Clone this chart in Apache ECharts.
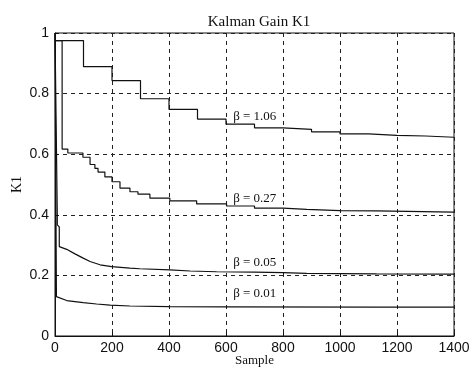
<!DOCTYPE html>
<html>
<head>
<meta charset="utf-8">
<script src="https://cdn.jsdelivr.net/npm/echarts@6/dist/echarts.min.js"></script>
<style>html,body{margin:0;padding:0;background:#fff}#c{width:473px;height:370px}</style>
</head>
<body>
<div id="c"></div>
<script>
// ---- data ----
var titleText = 'Kalman Gain K1';
var xName = 'Sample';
var yName = 'K1';
var xTicks = [0, 200, 400, 600, 800, 1000, 1200, 1400];
var yTicks = [0, 0.2, 0.4, 0.6, 0.8, 1];

// beta = 1.06 (staircase)
var b106X = [0, 100, 200, 300, 400, 500, 600, 700, 800, 900, 1000, 1100, 1200, 1300, 1400];
var b106Y = [0.975, 0.889, 0.843, 0.783, 0.748, 0.716, 0.699, 0.687, 0.682, 0.674, 0.667, 0.662, 0.660, 0.656, 0.656];
// beta = 0.27 (staircase)
var b027X = [0, 25, 45, 98, 123, 140, 151, 175, 200, 228, 263, 291, 333, 403, 497, 602, 700, 800, 883, 1000, 1128, 1400];
var b027Y = [0.975, 0.617, 0.604, 0.590, 0.566, 0.553, 0.541, 0.525, 0.509, 0.488, 0.476, 0.468, 0.455, 0.446, 0.436, 0.429, 0.422, 0.418, 0.414, 0.413, 0.409, 0.409];
// beta = 0.05
var b005X = [0, 8, 8, 15, 15, 21, 41, 70, 99, 123, 158, 199, 263, 298, 403, 474, 567, 700, 800, 883, 1000, 1128, 1400];
var b005Y = [1.0, 0.40, 0.367, 0.36, 0.295, 0.295, 0.286, 0.271, 0.257, 0.246, 0.235, 0.229, 0.224, 0.222, 0.218, 0.2145, 0.212, 0.211, 0.209, 0.207, 0.206, 0.205, 0.204];
// beta = 0.01
var b001X = [0, 5, 10, 41, 99, 146, 193, 263, 400, 600, 1128, 1400];
var b001Y = [1.0, 0.13, 0.124, 0.117, 0.110, 0.1056, 0.102, 0.099, 0.097, 0.096, 0.0955, 0.095];

var labelTexts = ['\u03b2 = 1.06', '\u03b2 = 0.27', '\u03b2 = 0.05', '\u03b2 = 0.01'];
var labelAtX = [625, 625, 625, 625];
var labelAtY = [0.723, 0.452, 0.241, 0.140];

function pairs(xs, ys) { return xs.map(function (x, i) { return [x, ys[i]]; }); }

var serif = 'Liberation Serif';
var sans = 'Liberation Sans';
var ink = '#111';

function makeSeries(xs, ys, step, idx) {
  return {
    type: 'line',
    data: pairs(xs, ys),
    step: step ? 'end' : false,
    showSymbol: false,
    symbol: 'none',
    silent: true,
    animation: false,
    lineStyle: { color: ink, width: 1.2 },
    markPoint: {
      symbol: 'circle',
      symbolSize: 0,
      silent: true,
      animation: false,
      data: [{
        coord: [labelAtX[idx], labelAtY[idx]],
        label: {
          show: true,
          position: 'right',
          distance: 0,
          formatter: labelTexts[idx],
          fontFamily: serif,
          fontSize: 13,
          color: ink,
          align: 'left',
          verticalAlign: 'middle'
        }
      }]
    }
  };
}

var chart = echarts.init(document.getElementById('c'), null, { renderer: 'canvas' });
chart.setOption({
  backgroundColor: '#fff',
  animation: false,
  title: {
    text: titleText,
    left: 254, top: 10, textAlign: 'center',
    textStyle: { fontFamily: serif, fontSize: 15, fontWeight: 'normal', color: ink }
  },
  grid: { left: 55, right: 19, top: 33, bottom: 34, outerBoundsMode: 'none', containLabel: false, show: true, borderColor: ink, borderWidth: 1, backgroundColor: 'transparent' },
  xAxis: {
    type: 'value', min: xTicks[0], max: xTicks[xTicks.length - 1], interval: xTicks[1] - xTicks[0],
    name: xName, nameLocation: 'middle', nameGap: 18, nameMoveOverlap: false,
    nameTextStyle: { fontFamily: serif, fontSize: 13, color: ink },
    axisLine: { show: true, lineStyle: { color: ink, width: 1 } },
    axisTick: { show: true, inside: true, length: 4, lineStyle: { color: ink } },
    axisLabel: { fontFamily: sans, fontSize: 14, color: ink, margin: 5, formatter: function (v) { return String(v); } },
    splitLine: { show: true, lineStyle: { color: '#222', type: [4, 4], width: 1 } }
  },
  yAxis: {
    type: 'value', min: yTicks[0], max: yTicks[yTicks.length - 1], interval: 0.2,
    name: yName, nameLocation: 'middle', nameGap: 31, nameRotate: 90, nameMoveOverlap: false,
    nameTextStyle: { fontFamily: serif, fontSize: 14, color: ink },
    axisLine: { show: true, lineStyle: { color: ink, width: 1 } },
    axisTick: { show: true, inside: true, length: 4, lineStyle: { color: ink } },
    axisLabel: {
      fontFamily: sans, fontSize: 14, color: ink, margin: 6,
      formatter: function (v) { return (v === 0 || v === 1) ? String(v) : v.toFixed(1); }
    },
    splitLine: { show: true, lineStyle: { color: '#222', type: [4, 4], width: 1 } }
  },
  series: [
    makeSeries(b106X, b106Y, true, 0),
    makeSeries(b027X, b027Y, true, 1),
    makeSeries(b005X, b005Y, false, 2),
    makeSeries(b001X, b001Y, false, 3)
  ]
});
</script>
</body>
</html>
